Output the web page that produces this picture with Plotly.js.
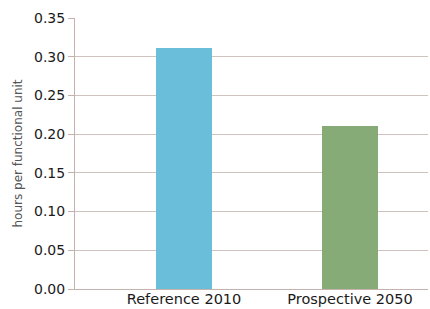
<!DOCTYPE html>
<html>
<head>
<meta charset="utf-8">
<script src="https://cdn.plot.ly/plotly-3.0.1.min.js"></script>
<style>html,body{margin:0;padding:0;background:#fff;}#chart{width:430px;height:309px;}</style>
</head>
<body>
<div id="chart"></div>
<script>
const categories = ["Reference 2010", "Prospective 2050"];
const values = [0.311, 0.21];
const barColors = ["#6bbed9", "#86ab77"];
const yTickVals = [0, 0.05, 0.10, 0.15, 0.20, 0.25, 0.30, 0.35];

const trace = {
  type: "bar",
  x: categories,
  y: values,
  width: 0.337,
  marker: {color: barColors},
  hoverinfo: "none"
};

const layout = {
  width: 430,
  height: 309,
  margin: {l: 75, r: 2, t: 18, b: 20},
  paper_bgcolor: "#ffffff",
  plot_bgcolor: "#ffffff",
  font: {family: "DejaVu Sans", size: 14, color: "#1a1a1a"},
  showlegend: false,
  bargap: 0,
  xaxis: {
    type: "category",
    range: [-0.657, 1.47],
    showgrid: false,
    zeroline: false,
    showline: true,
    linecolor: "#c4b2ad",
    linewidth: 1,
    ticks: "",
    ticklabelstandoff: -3,
    tickfont: {family: "DejaVu Sans", size: 14.5, color: "#1a1a1a"},
    fixedrange: true
  },
  yaxis: {
    range: [0, 0.35],
    tickvals: yTickVals,
    tickformat: ".2f",
    showgrid: true,
    gridcolor: "#d0c3bf",
    gridwidth: 1,
    zeroline: false,
    showline: true,
    linecolor: "#c4b2ad",
    linewidth: 1,
    ticks: "outside",
    ticklen: 6,
    tickcolor: "#c4b2ad",
    tickfont: {family: "DejaVu Sans", size: 14, color: "#1a1a1a"},
    title: {text: "hours per functional unit", font: {family: "DejaVu Sans", size: 12, color: "#555555"}, standoff: 8},
    fixedrange: true
  }
};

Plotly.newPlot("chart", [trace], layout, {displayModeBar: false, staticPlot: true});
</script>
</body>
</html>
